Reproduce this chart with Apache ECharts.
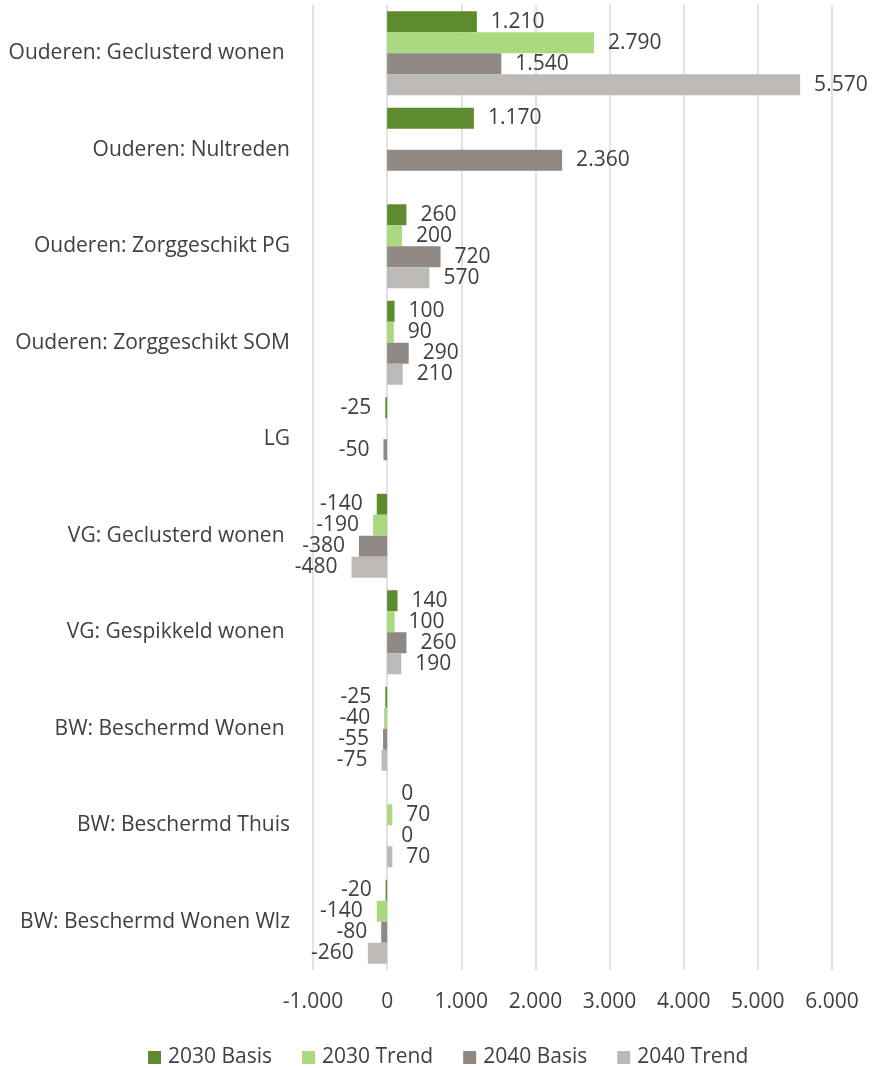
<!DOCTYPE html>
<html>
<head>
<meta charset="utf-8">
<script src="https://cdn.jsdelivr.net/npm/echarts@6/dist/echarts.min.js"></script>
<style>
  html, body { margin: 0; padding: 0; background: #fff; }
  #main { width: 874px; height: 1068px; }
</style>
</head>
<body>
<div id="main"></div>
<script>
// categorieen, van boven naar beneden
var categories = [
    'Ouderen: Geclusterd wonen ',
    'Ouderen: Nultreden',
    'Ouderen: Zorggeschikt PG',
    'Ouderen: Zorggeschikt SOM',
    'LG',
    'VG: Geclusterd wonen ',
    'VG: Gespikkeld wonen ',
    'BW: Beschermd Wonen ',
    'BW: Beschermd Thuis',
    'BW: Beschermd Wonen Wlz'
];
var seriesNames = ['2030 Basis', '2030 Trend', '2040 Basis', '2040 Trend'];
var basis2030 = [1210, 1170, 260, 100, -25, -140, 140, -25, 0, -20];
var trend2030 = [2790, null, 200, 90, null, -190, 100, -40, 70, -140];
var basis2040 = [1540, 2360, 720, 290, -50, -380, 260, -55, 0, -80];
var trend2040 = [5570, null, 570, 210, null, -480, 190, -75, 70, -260];
var colors = ['#5e8b2e', '#acd980', '#8f8883', '#bdb9b6'];

var txt = '#404040';
var font = 'Open Sans';
var fs = 21;

function fmt(v) {
    var neg = v < 0;
    var s = String(Math.abs(Math.round(v)));
    s = s.replace(/\B(?=(\d{3})+(?!\d))/g, '.');
    return (neg ? '-' : '') + s;
}

function makeSeries(name, values, color) {
    return {
        name: name,
        type: 'bar',
        barGap: '0%',
        barCategoryGap: '13%',
        itemStyle: { color: color },
        data: values.map(function (v) {
            if (v === null) return null;
            return {
                value: v,
                label: {
                    show: true,
                    position: v < 0 ? 'left' : 'right',
                    distance: 14,
                    color: txt,
                    fontFamily: font,
                    fontSize: fs,
                    formatter: function (p) { return fmt(p.value); }
                }
            };
        })
    };
}

var myChart = echarts.init(document.getElementById('main'));
var option = {
    animation: false,
    textStyle: { fontFamily: font },
    grid: { left: 313, width: 519, top: 5, height: 965 },
    legend: {
        bottom: -5,
        left: 143,
        icon: 'rect',
        itemWidth: 13,
        itemHeight: 13,
        itemGap: 30,
        textStyle: { color: txt, fontFamily: font, fontSize: fs, padding: [0, 0, 0, 2] },
        data: seriesNames
    },
    xAxis: {
        type: 'value',
        min: -1000,
        max: 6000,
        interval: 1000,
        axisLine: { show: false },
        axisTick: { show: false },
        splitLine: { lineStyle: { color: '#d9d9d9', width: 1.5 } },
        axisLabel: {
            color: txt, fontFamily: font, fontSize: fs, margin: 22,
            formatter: function (v) { return fmt(v); }
        }
    },
    yAxis: {
        type: 'category',
        inverse: true,
        data: categories,
        axisLine: { show: false },
        axisTick: { show: false },
        axisLabel: { color: txt, fontFamily: font, fontSize: fs, margin: 23 }
    },
    series: [
        makeSeries(seriesNames[0], basis2030, colors[0]),
        makeSeries(seriesNames[1], trend2030, colors[1]),
        makeSeries(seriesNames[2], basis2040, colors[2]),
        makeSeries(seriesNames[3], trend2040, colors[3])
    ]
};
myChart.setOption(option);
</script>
</body>
</html>
